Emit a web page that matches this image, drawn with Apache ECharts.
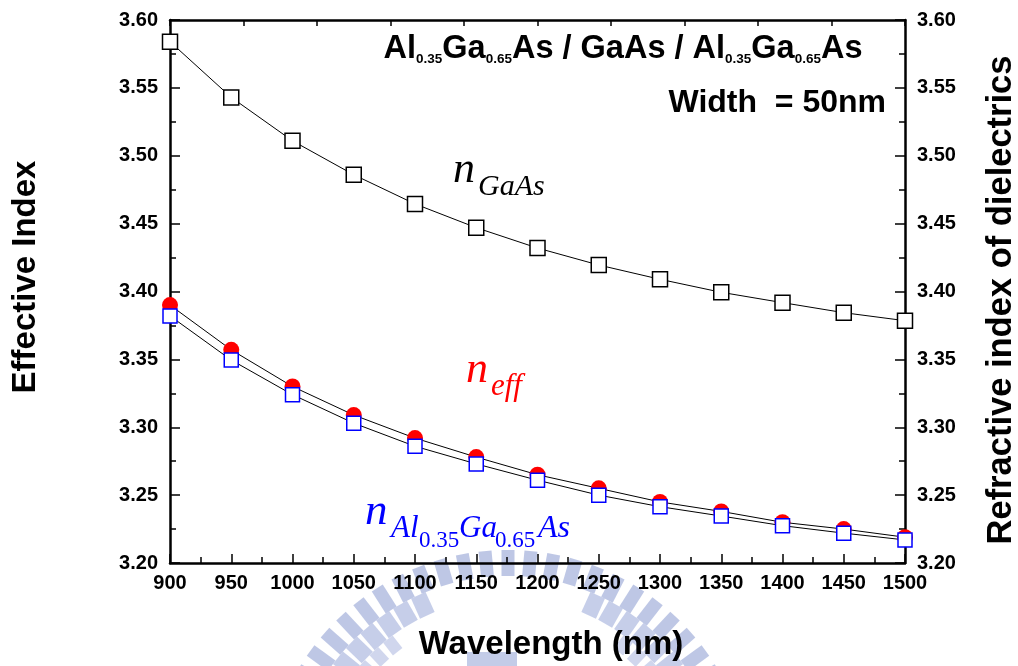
<!DOCTYPE html>
<html>
<head>
<meta charset="utf-8">
<script src="https://cdn.jsdelivr.net/npm/echarts@6/dist/echarts.min.js"></script>
<style>html,body{margin:0;padding:0;background:#fff}#c{width:1018px;height:666px}</style>
</head>
<body>
<div id="c"></div>
<script>
// ---- data ----
const wavelengths = [900, 950, 1000, 1050, 1100, 1150, 1200, 1250, 1300, 1350, 1400, 1450, 1500];
const nGaAs   = [3.584, 3.543, 3.511, 3.486, 3.4645, 3.447, 3.432, 3.4195, 3.409, 3.3994, 3.3918, 3.3844, 3.3785];
const nEff    = [3.390, 3.357, 3.330, 3.309, 3.292, 3.278, 3.265, 3.255, 3.245, 3.238, 3.230, 3.225, 3.219];
const nAlGaAs = [3.382, 3.3495, 3.324, 3.303, 3.286, 3.273, 3.261, 3.250, 3.2415, 3.2346, 3.2275, 3.222, 3.217];
const xRange = [900, 1500];
const yRange = [3.20, 3.60];
const xStep = 50;
const yStep = 0.05;

const SANS = '"Liberation Sans", Arial, sans-serif';
const SERIF = '"Liberation Serif", "Times New Roman", serif';

const pair = arr => wavelengths.map((w, i) => [w, arr[i]]);

const chart = echarts.init(document.getElementById('c'), null, {renderer: 'canvas'});

// watermark (decorative faded arch logo behind the plot)
const wm = [];
const cx = 508, cy = 794;
function bar(angleDeg, r, len, w, fill) {
  wm.push({
    type: 'rect', x: cx, y: cy, rotation: -angleDeg * Math.PI / 180, z: -10, silent: true,
    shape: {x: -w / 2, y: -r, width: w, height: len},
    style: {fill: fill, opacity: 0.8}
  });
}
for (let k = -15; k <= 15; k++) {
  const a = k * 5.4;
  bar(a, 244, 26, 13, '#aeb9de');
  const b = a + 2.7;
  if (Math.abs(b) >= 20 && Math.abs(b) <= 80) bar(b, 218, 22, 16, '#b8c2e3');
  if (Math.abs(a) >= 36) bar(a, 196, 16, 12, '#c4cce9');
}
wm.push({type: 'rect', z: -10, silent: true, shape: {x: 467, y: 652, width: 50, height: 14},
         style: {fill: '#b4bfe2', opacity: 0.8}});

const tickStyle = {color: '#000', width: 1.5};
const axisLabel = {fontFamily: SANS, fontWeight: 'bold', fontSize: 20, color: '#000'};

function yAx(pos) {
  return {
    type: 'value', position: pos, min: yRange[0], max: yRange[1], interval: yStep,
    axisLine: {show: true, onZero: false, lineStyle: {color: '#000', width: 2.5}},
    axisTick: {show: true, inside: true, length: 10, lineStyle: tickStyle},
    minorTick: {show: true, splitNumber: 2, length: 6, lineStyle: tickStyle},
    splitLine: {show: false},
    axisLabel: Object.assign({margin: 12, formatter: v => v.toFixed(2)}, axisLabel)
  };
}

const option = {
  animation: false,
  backgroundColor: '#fff',
  grid: {left: 170, right: 113, top: 20, bottom: 103, containLabel: false},
  xAxis: [
    {
      type: 'value', position: 'bottom', min: xRange[0], max: xRange[1], interval: xStep,
      axisLine: {show: true, onZero: false, lineStyle: {color: '#000', width: 2.5}},
      axisTick: {show: true, inside: true, length: 9, lineStyle: tickStyle},
      minorTick: {show: true, splitNumber: 2, length: 6, lineStyle: tickStyle},
      splitLine: {show: false},
      axisLabel: Object.assign({margin: 10, formatter: v => String(v)}, axisLabel)
    },
    {
      type: 'value', position: 'top', min: 0, max: 10, interval: 1,
      axisLine: {show: true, onZero: false, lineStyle: {color: '#000', width: 2.5}},
      axisTick: {show: true, inside: true, length: 6, lineStyle: tickStyle},
      splitLine: {show: false},
      axisLabel: {show: false}
    }
  ],
  yAxis: [yAx('left'), yAx('right')],
  series: [
    {type: 'line', data: pair(nGaAs), showSymbol: false, silent: true, z: 2,
     lineStyle: {color: '#000', width: 1}},
    {type: 'line', data: pair(nEff), showSymbol: false, silent: true, z: 2,
     lineStyle: {color: '#000', width: 1}},
    {type: 'line', data: pair(nAlGaAs), showSymbol: false, silent: true, z: 2,
     lineStyle: {color: '#000', width: 1}},
    {type: 'scatter', data: pair(nGaAs), symbol: 'rect', symbolSize: 15, z: 3, silent: true,
     itemStyle: {color: '#fff', borderColor: '#000', borderWidth: 1.5, opacity: 1}},
    {type: 'scatter', data: pair(nEff), symbol: 'circle', symbolSize: 16, z: 3, silent: true,
     itemStyle: {color: '#ff0000', opacity: 1}},
    {type: 'scatter', data: pair(nAlGaAs), symbol: 'rect', symbolSize: 14, z: 4, silent: true,
     itemStyle: {color: '#fff', borderColor: '#0000ff', borderWidth: 1.5, opacity: 1}}
  ],
  graphic: wm.concat([
    // axis titles
    {type: 'text', x: 26, y: 277, rotation: Math.PI / 2, silent: true,
     style: {text: 'Effective Index', fontFamily: SANS, fontWeight: 'bold', fontSize: 33, fill: '#000',
             align: 'center', verticalAlign: 'middle'}},
    {type: 'text', x: 1001, y: 300, rotation: Math.PI / 2, silent: true,
     style: {text: 'Refractive index of dielectrics', fontFamily: SANS, fontWeight: 'bold', fontSize: 34.5, fill: '#000',
             align: 'center', verticalAlign: 'middle'}},
    {type: 'text', x: 551, y: 645, silent: true,
     style: {text: 'Wavelength (nm)', fontFamily: SANS, fontWeight: 'bold', fontSize: 33, fill: '#000',
             align: 'center', verticalAlign: 'middle'}},
    // title
    {type: 'text', x: 623, y: 66, silent: true,
     style: {text: '{m|Al}{s|0.35}{m|Ga}{s|0.65}{m|As / GaAs / Al}{s|0.35}{m|Ga}{s|0.65}{m|As}',
             align: 'center', verticalAlign: 'bottom',
             rich: {
               m: {fontFamily: SANS, fontWeight: 'bold', fontSize: 32.5, fill: '#000', lineHeight: 35, verticalAlign: 'bottom'},
               s: {fontFamily: SANS, fontWeight: 'bold', fontSize: 13.5, fill: '#000', lineHeight: 22, verticalAlign: 'bottom'}
             }}},
    {type: 'text', x: 886, y: 119, silent: true,
     style: {text: 'Width  = 50nm', fontFamily: SANS, fontWeight: 'bold', fontSize: 32, fill: '#000',
             align: 'right', verticalAlign: 'bottom'}},
    // n_GaAs
    {type: 'text', x: 453, y: 170, silent: true,
     style: {text: 'n', fontFamily: SERIF, fontStyle: 'italic', fontSize: 44, fill: '#000', align: 'left', verticalAlign: 'middle'}},
    {type: 'text', x: 478, y: 187, silent: true,
     style: {text: 'GaAs', fontFamily: SERIF, fontStyle: 'italic', fontSize: 30, fill: '#000', align: 'left', verticalAlign: 'middle'}},
    // n_eff
    {type: 'text', x: 466, y: 370, silent: true,
     style: {text: 'n', fontFamily: SERIF, fontStyle: 'italic', fontSize: 44, fill: '#ff0000', align: 'left', verticalAlign: 'middle'}},
    {type: 'text', x: 491, y: 387, silent: true,
     style: {text: 'eff', fontFamily: SERIF, fontStyle: 'italic', fontSize: 31, fill: '#ff0000', align: 'left', verticalAlign: 'middle'}},
    // n_Al0.35Ga0.65As
    {type: 'text', x: 365, y: 512, silent: true,
     style: {text: 'n', fontFamily: SERIF, fontStyle: 'italic', fontSize: 45, fill: '#0000ff', align: 'left', verticalAlign: 'middle'}},
    {type: 'text', x: 391, y: 529, silent: true,
     style: {text: 'Al', fontFamily: SERIF, fontStyle: 'italic', fontSize: 31, fill: '#0000ff', align: 'left', verticalAlign: 'middle'}},
    {type: 'text', x: 419, y: 541, silent: true,
     style: {text: '0.35', fontFamily: SERIF, fontSize: 23, fill: '#0000ff', align: 'left', verticalAlign: 'middle'}},
    {type: 'text', x: 459, y: 529, silent: true,
     style: {text: 'Ga', fontFamily: SERIF, fontStyle: 'italic', fontSize: 31, fill: '#0000ff', align: 'left', verticalAlign: 'middle'}},
    {type: 'text', x: 495, y: 541, silent: true,
     style: {text: '0.65', fontFamily: SERIF, fontSize: 23, fill: '#0000ff', align: 'left', verticalAlign: 'middle'}},
    {type: 'text', x: 538, y: 529, silent: true,
     style: {text: 'As', fontFamily: SERIF, fontStyle: 'italic', fontSize: 32, fill: '#0000ff', align: 'left', verticalAlign: 'middle'}}
  ])
};
chart.setOption(option);
</script>
</body>
</html>
